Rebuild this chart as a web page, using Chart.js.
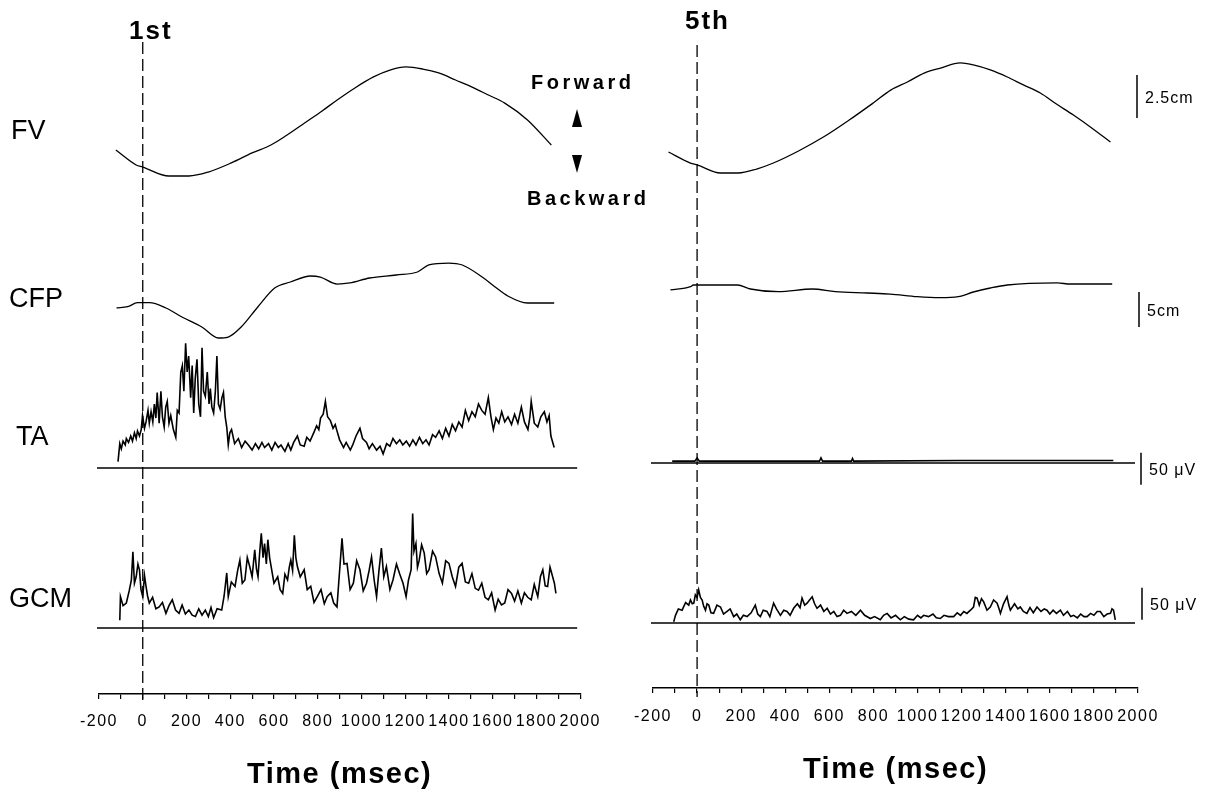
<!DOCTYPE html>
<html>
<head>
<meta charset="utf-8">
<script src="https://cdn.jsdelivr.net/npm/chart.js@4.4.1/dist/chart.umd.min.js"></script>
<style>
  html, body { margin: 0; padding: 0; background: #fff; }
  #stage { position: relative; width: 1223px; height: 789px; overflow: hidden;
           font-family: 'Liberation Sans', Arial, sans-serif; color: #000; }
  canvas { position: absolute; top: 0; }
  #leftPanel { left: 0; }
  #rightPanel { left: 611px; }
  .lbl { position: absolute; white-space: nowrap; line-height: 1; transform: translateY(-50%); }
  .row { font-size: 27px; }
  .trial { font-size: 26px; font-weight: bold; letter-spacing: 2px; }
  .dir { font-size: 20px; font-weight: bold; letter-spacing: 3.5px; }
  .tri { position: absolute; width: 0; height: 0; border-left: 5px solid transparent; border-right: 5px solid transparent; }
  .up { border-bottom: 18px solid #000; }
  .down { border-top: 18px solid #000; }
</style>
</head>
<body>
<div id="stage">
  <canvas id="leftPanel" width="611" height="789"></canvas>
  <canvas id="rightPanel" width="612" height="789"></canvas>

  <div class="lbl trial" style="left:129px; top:30px;">1st</div>
  <div class="lbl trial" style="left:685px; top:20px;">5th</div>

  <div class="lbl row" style="left:11px; top:130px;">FV</div>
  <div class="lbl row" style="left:9px; top:298px;">CFP</div>
  <div class="lbl row" style="left:16px; top:436px;">TA</div>
  <div class="lbl row" style="left:9px; top:598px;">GCM</div>

  <div class="lbl dir" style="left:531px; top:82px;">Forward</div>
  <div class="tri up" style="left:572px; top:109px;"></div>
  <div class="tri down" style="left:572px; top:155px;"></div>
  <div class="lbl dir" style="left:527px; top:198px;">Backward</div>
</div>

<script>
// time axis (msec)
const TIME_MIN = -200;
const TIME_MAX = 2000;
const TIME_STEP = 100;

// FV displacement [msec, cm]
const fvFirst = [[-123,1.51],[-30,0.64],[0,0.52],[120,0],[211,0],[300,0.23],[405,0.76],[500,1.34],[586,1.80],[660,2.38],[740,3.08],[820,3.78],[889,4.42],[970,5.12],[1055,5.76],[1130,6.16],[1204,6.34],[1280,6.22],[1353,5.99],[1430,5.58],[1506,5.17],[1580,4.71],[1655,4.24],[1759,3.26],[1868,1.80]];
const fvFifth = [[-130,1.22],[-30,0.58],[0,0.47],[106,0],[187,0],[270,0.23],[346,0.58],[460,1.28],[573,2.09],[690,3.08],[799,4.07],[880,4.83],[954,5.29],[1030,5.81],[1104,6.10],[1194,6.40],[1253,6.28],[1330,5.99],[1407,5.58],[1480,5.12],[1557,4.65],[1630,4.01],[1707,3.37],[1790,2.62],[1875,1.80]];

// CFP [msec, cm]
const cfpFirst = [[-120,-0.71],[-69,-0.53],[-24,0.04],[30,0.04],[106,-0.71],[179,-2.0],[270,-3.43],[346,-5.0],[391,-4.86],[450,-3.43],[526,-0.57],[603,2.14],[675,3.0],[767,3.86],[812,3.71],[889,2.71],[947,2.86],[1037,3.57],[1159,4.0],[1256,4.43],[1308,5.43],[1398,5.71],[1461,5.43],[1552,3.71],[1611,2.29],[1669,1.0],[1759,0],[1881,0]];
const cfpFifth = [[-121,-0.71],[-30,-0.24],[-17,0],[183,0],[242,-0.57],[369,-0.96],[523,-0.57],[627,-0.96],[772,-1.14],[876,-1.29],[999,-1.67],[1103,-1.81],[1185,-1.67],[1253,-1.0],[1330,-0.43],[1407,0],[1634,0.29],[1693,0.14],[1883,0.14]];

// TA EMG [msec, uV]
const taFirst = [[-113,10],[-105,38],[-98,30],[-90,42],[-80,36],[-75,46],[-65,40],[-55,50],[-47,42],[-38,55],[-30,46],[-24,58],[-15,50],[-7,60],[-1,82],[8,62],[15,72],[24,90],[30,70],[38,88],[46,72],[53,100],[60,78],[66,118],[75,70],[83,120],[90,80],[98,64],[105,95],[112,104],[120,70],[128,82],[140,60],[151,48],[158,90],[166,86],[174,150],[181,160],[188,120],[196,195],[203,150],[210,175],[219,110],[226,160],[233,86],[240,140],[248,170],[256,100],[264,80],[271,188],[278,120],[286,112],[295,150],[303,100],[309,124],[316,95],[324,86],[332,120],[339,175],[346,100],[354,92],[362,110],[369,118],[377,80],[384,64],[391,36],[398,55],[406,60],[420,38],[437,46],[452,32],[468,42],[483,36],[500,28],[515,38],[530,30],[545,40],[557,32],[575,38],[590,28],[605,40],[620,32],[632,36],[650,26],[665,38],[677,28],[690,40],[707,50],[720,36],[738,34],[750,48],[765,42],[783,56],[795,66],[805,60],[813,78],[825,84],[835,104],[845,80],[858,74],[870,62],[880,68],[888,58],[900,44],[918,32],[930,40],[949,28],[960,36],[975,50],[993,62],[1005,46],[1023,40],[1035,30],[1050,38],[1069,28],[1085,34],[1099,22],[1115,38],[1130,34],[1144,46],[1160,38],[1175,44],[1189,36],[1205,42],[1220,34],[1235,44],[1249,36],[1265,48],[1280,38],[1295,44],[1309,36],[1325,52],[1339,48],[1355,58],[1370,46],[1385,62],[1400,50],[1415,68],[1430,58],[1445,72],[1460,64],[1475,90],[1490,74],[1505,88],[1520,80],[1535,100],[1550,90],[1565,84],[1580,110],[1592,80],[1603,60],[1615,78],[1628,70],[1641,88],[1655,72],[1670,80],[1686,68],[1700,84],[1715,70],[1731,95],[1745,72],[1761,60],[1770,80],[1776,104],[1790,70],[1806,64],[1820,80],[1836,88],[1848,72],[1858,82],[1866,50],[1881,32]];
const taFifth = [[-113,3],[-10,3],[0,8],[10,3],[555,3],[562,8],[569,3],[700,3],[705,7],[710,3],[1200,4],[1888,4]];

// GCM EMG [msec, uV]
const gcmFirst = [[-105,12],[-102,49],[-90,35],[-75,39],[-62,58],[-52,75],[-45,119],[-38,70],[-30,80],[-22,100],[-15,91],[-8,60],[0,49],[8,82],[15,65],[22,50],[30,39],[45,48],[60,30],[75,33],[90,40],[106,23],[120,35],[135,44],[150,28],[166,23],[180,36],[195,22],[211,28],[226,20],[241,18],[256,30],[271,20],[286,28],[300,18],[312,32],[324,16],[340,30],[361,28],[372,50],[384,86],[391,49],[405,72],[422,65],[434,90],[444,106],[455,70],[467,75],[478,110],[489,96],[500,80],[512,122],[520,92],[527,80],[535,120],[542,148],[550,110],[557,132],[565,100],[572,138],[580,110],[587,96],[600,70],[617,80],[628,60],[640,54],[650,84],[662,75],[670,95],[677,106],[685,90],[693,145],[700,110],[707,96],[720,80],[738,91],[752,60],[768,65],[783,40],[798,49],[815,60],[830,38],[843,49],[860,55],[873,39],[888,33],[898,80],[911,140],[920,100],[934,101],[948,60],[963,70],[978,105],[993,91],[1008,58],[1023,70],[1035,90],[1046,111],[1058,75],[1069,49],[1080,90],[1091,125],[1102,80],[1114,96],[1130,60],[1144,75],[1160,100],[1174,85],[1190,70],[1204,49],[1215,75],[1227,91],[1234,179],[1240,120],[1249,132],[1256,95],[1264,106],[1275,130],[1287,117],[1298,85],[1309,91],[1325,120],[1339,111],[1355,85],[1370,70],[1385,105],[1400,101],[1415,80],[1430,65],[1445,95],[1460,101],[1475,72],[1490,70],[1505,85],[1520,62],[1535,59],[1550,70],[1565,48],[1580,44],[1595,55],[1611,28],[1625,45],[1640,36],[1655,39],[1670,60],[1686,54],[1700,42],[1715,58],[1731,39],[1745,55],[1760,48],[1776,44],[1790,68],[1806,49],[1818,80],[1829,91],[1840,66],[1851,65],[1862,95],[1874,80],[1882,70],[1889,54]];
const gcmFifth = [[-106,2],[-98,12],[-85,22],[-68,20],[-52,32],[-38,28],[-30,36],[-22,30],[-15,31],[-8,44],[0,40],[7,52],[15,40],[23,36],[30,26],[38,20],[45,30],[53,28],[63,16],[75,15],[90,28],[106,25],[120,14],[136,18],[150,22],[166,10],[180,14],[196,5],[210,12],[227,10],[245,16],[264,28],[275,14],[287,10],[300,20],[317,18],[330,10],[347,31],[360,22],[378,12],[393,20],[408,18],[422,12],[438,23],[455,30],[467,24],[476,39],[488,28],[499,31],[510,36],[522,41],[533,30],[544,23],[560,28],[575,18],[590,23],[605,14],[620,18],[635,10],[650,12],[665,20],[680,15],[700,18],[720,12],[741,20],[760,12],[786,7],[805,10],[831,5],[846,12],[862,15],[880,8],[900,12],[922,5],[940,10],[960,6],[982,5],[1000,12],[1015,8],[1028,12],[1050,10],[1070,14],[1085,8],[1103,7],[1120,12],[1140,10],[1164,10],[1180,16],[1195,12],[1210,18],[1224,15],[1240,20],[1254,25],[1262,40],[1270,39],[1280,28],[1290,38],[1300,33],[1315,20],[1330,25],[1345,36],[1361,31],[1370,22],[1376,15],[1390,30],[1406,41],[1414,28],[1421,20],[1440,30],[1455,22],[1466,25],[1480,18],[1496,15],[1510,24],[1525,16],[1542,25],[1560,18],[1575,22],[1587,20],[1600,14],[1615,20],[1630,15],[1648,20],[1662,12],[1680,18],[1695,10],[1708,12],[1725,8],[1740,14],[1755,10],[1769,10],[1785,15],[1800,12],[1815,18],[1829,18],[1845,10],[1860,14],[1875,15],[1882,22],[1889,20],[1897,5]];

// pixels per unit for each trace
const GAIN = { yFV: 17.2, yCFP: 7, yTA: 0.64, yGCM: 0.64 };

Chart.defaults.font.family = "'Liberation Sans', Arial, sans-serif";
Chart.defaults.color = '#000';

// baselines, onset marker, calibration bars
const panelDecor = {
    id: 'panelDecor',
    beforeDraw(chart) {
        chart.ctx.letterSpacing = '1.5px';
    },
    afterDatasetsDraw(chart, args, opts) {
        const { ctx, chartArea } = chart;
        ctx.save();
        ctx.strokeStyle = '#000';
        ctx.lineWidth = 1.3;

        opts.baselines.forEach(id => {
            const y = chart.scales[id].getPixelForValue(0);
            ctx.beginPath();
            ctx.moveTo(chartArea.left - 2, y);
            ctx.lineTo(chartArea.right - 3, y);
            ctx.stroke();
        });

        const x0 = chart.scales.x.getPixelForValue(0);
        ctx.setLineDash([12, 5]);
        ctx.beginPath();
        ctx.moveTo(x0, chartArea.top + opts.dashTop);
        ctx.lineTo(x0, chartArea.bottom + opts.dashBottom);
        ctx.stroke();
        ctx.setLineDash([]);

        ctx.lineWidth = 1.5;
        ctx.fillStyle = '#000';
        ctx.font = "16px 'Liberation Sans', Arial, sans-serif";
        ctx.letterSpacing = '1px';
        ctx.textBaseline = 'middle';
        (opts.bars || []).forEach(bar => {
            const s = chart.scales[bar.axis];
            const x = chartArea.right + bar.dx;
            const y1 = s.getPixelForValue(bar.from);
            const y2 = s.getPixelForValue(bar.from + bar.size);
            ctx.beginPath();
            ctx.moveTo(x, y1);
            ctx.lineTo(x, y2);
            ctx.stroke();
            ctx.fillText(bar.text, x + 8, (y1 + y2) / 2 + 2);
        });
        ctx.restore();
    }
};

class TracePanel {
    constructor(canvasId, layout, traces) {
        this.canvas = document.getElementById(canvasId);
        this.layout = layout;
        this.traces = traces;
        this.chart = null;
        this.init();
    }

    traceScale(axisId) {
        const { top, bottom, zero } = this.layout;
        const g = GAIN[axisId];
        return { display: false, min: -(bottom - zero[axisId]) / g, max: (zero[axisId] - top) / g };
    }

    init() {
        const L = this.layout;
        const datasets = this.traces.map(tr => ({
            data: tr.series.map(([t, v]) => ({ x: t, y: v })),
            yAxisID: tr.axis,
            borderColor: '#000',
            borderWidth: tr.emg ? 1.6 : 1.3,
            pointRadius: 0,
            cubicInterpolationMode: tr.emg ? 'default' : 'monotone',
            tension: 0,
            fill: false,
            clip: false
        }));

        this.chart = new Chart(this.canvas.getContext('2d'), {
            type: 'line',
            data: { datasets },
            plugins: [panelDecor],
            options: {
                responsive: false,
                animation: false,
                events: [],
                layout: { padding: { top: L.top, left: L.padLeft, right: L.padRight, bottom: 0 } },
                plugins: {
                    legend: { display: false },
                    tooltip: { enabled: false },
                    panelDecor: { baselines: ['yTA', 'yGCM'], dashTop: L.dashTop, dashBottom: L.dashBottom, bars: L.bars }
                },
                scales: {
                    x: {
                        type: 'linear',
                        min: TIME_MIN,
                        max: TIME_MAX,
                        afterFit: scale => { scale.height = 789 - L.bottom; },
                        ticks: {
                            stepSize: TIME_STEP,
                            autoSkip: false,
                            maxRotation: 0,
                            padding: L.tickPad,
                            font: { size: 16 },
                            callback: v => (v % 200 === 0 ? String(v) : '')
                        },
                        grid: { drawOnChartArea: false, drawTicks: true, tickLength: 5, color: '#000', lineWidth: 1.2 },
                        border: { display: true, color: '#000', width: 1.4 },
                        title: {
                            display: true,
                            text: 'Time (msec)',
                            font: { size: 29, weight: 'bold', lineHeight: 1 },
                            padding: { top: 0, bottom: L.titlePad }
                        }
                    },
                    yFV: this.traceScale('yFV'),
                    yCFP: this.traceScale('yCFP'),
                    yTA: this.traceScale('yTA'),
                    yGCM: this.traceScale('yGCM')
                }
            }
        });
    }
}

// 1st trial
new TracePanel('leftPanel', {
    top: 40, bottom: 694, padLeft: 99, padRight: 24,
    zero: { yFV: 176, yCFP: 303, yTA: 468, yGCM: 628 },
    tickPad: 13, titlePad: 0, dashTop: 2, dashBottom: 6, bars: []
}, [
    { axis: 'yFV', series: fvFirst },
    { axis: 'yCFP', series: cfpFirst },
    { axis: 'yTA', series: taFirst, emg: true },
    { axis: 'yGCM', series: gcmFirst, emg: true }
]);

// 5th trial, with calibration bars
new TracePanel('rightPanel', {
    top: 40, bottom: 688, padLeft: 42, padRight: 85,
    zero: { yFV: 173, yCFP: 285, yTA: 463, yGCM: 623 },
    tickPad: 14, titlePad: 5, dashTop: 5, dashBottom: 9,
    bars: [
        { axis: 'yFV', from: 3.2, size: 2.5, dx: -1, text: '2.5cm' },
        { axis: 'yCFP', from: -6, size: 5, dx: 1, text: '5cm' },
        { axis: 'yTA', from: -34, size: 50, dx: 3, text: '50 \u03bcV' },
        { axis: 'yGCM', from: 5, size: 50, dx: 4, text: '50 \u03bcV' }
    ]
}, [
    { axis: 'yFV', series: fvFifth },
    { axis: 'yCFP', series: cfpFifth },
    { axis: 'yTA', series: taFifth, emg: true },
    { axis: 'yGCM', series: gcmFifth, emg: true }
]);
</script>
</body>
</html>
